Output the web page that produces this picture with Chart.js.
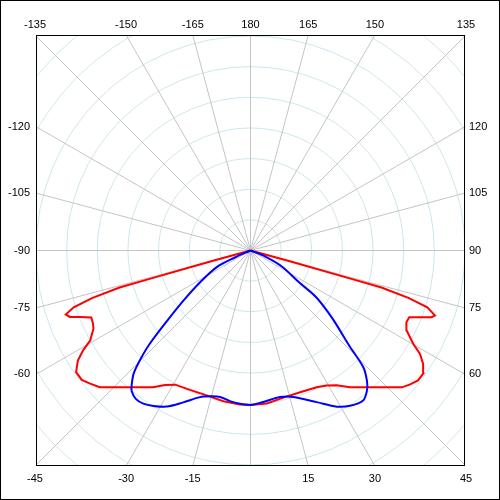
<!DOCTYPE html>
<html>
<head>
<meta charset="utf-8">
<script src="https://cdn.jsdelivr.net/npm/chart.js@4.4.1/dist/chart.umd.min.js"></script>
<style>
  html, body { margin: 0; padding: 0; background: #fff; }
  canvas { display: block; }
</style>
</head>
<body>
<canvas id="polarChart" width="500" height="500"></canvas>
<script>
// angulos en grados (0 = abajo, positivo a la derecha), intensidad en unidades del grafico
var redAngles = [-90, -74.6, -74.3, -74.2, -73.3, -72.2, -70.9, -69.8, -68.7, -67.2, -65.4, -63.6, -60.7, -59.2, -57.5, -55.1, -52.5, -50.3, -47.8, -35.5, -32.4, -29.3, -23.5, -16.8, -10.2, -3.9,
                 0, 6.1, 12.6, 19.3, 25.8, 29.4, 32.6, 36.0, 47.9, 50.0, 52.2, 54.5, 56.7, 58.6, 60.2, 62.9, 65.3, 67.2, 69.8, 70.6, 72.2, 73.3, 74.2, 74.3, 74.6, 90];
var redValues = [0, 65, 171, 222, 269, 303, 319, 314, 299, 282, 283, 286, 300, 318, 334, 347, 347, 340, 332, 274, 260, 251, 248, 247, 250, 252,
                 252, 251, 246, 245, 248, 253, 261, 276, 333, 340, 346, 346, 337, 324, 306, 286, 280, 281, 315, 319, 303, 269, 222, 171, 65, 0];

var blueAngles = [-90, -66, -64, -58, -53.5, -50, -47.2, -45.3, -43.5, -41.7, -40.3, -37.7, -35.0, -32.0, -28.2, -23.9, -19.0, -15.5, -11.7, -6.5,
                  0, 4.8, 11.4, 16.3, 23.6, 28.9, 32.7, 36.9, 39.8, 41.8, 44.0, 46.1, 50.3, 54.6, 56.8, 62.9, 67.5, 90];
var blueValues = [0, 28, 60, 96, 134, 176, 224, 253, 277, 291, 300, 306, 305, 299, 289, 271, 253, 247, 244, 249,
                  252, 248, 244, 249, 270, 291, 301, 306, 297, 285, 265, 223, 174, 131, 94, 58, 27, 0];

// etiquetas de angulo en el borde
var angleTicks = [-165, -150, -135, -120, -105, -90, -75, -60, -45, -30, -15, 15, 30, 45, 60, 75, 90, 105, 120, 135, 150, 165, 180];

var ringStep = 50;
var maxValue = 350;

function toXY(angles, values) {
    return angles.map(function(a, i) {
        var t = a * Math.PI / 180;
        return { x: values[i] * Math.sin(t), y: -values[i] * Math.cos(t) };
    });
}

var polarGrid = {
    id: 'polarGrid',
    beforeDatasetsDraw: function(chart) {
        var ctx = chart.ctx, a = chart.chartArea;
        var xs = chart.scales.x, ys = chart.scales.y;
        var cx = xs.getPixelForValue(0), cy = ys.getPixelForValue(0);
        var unit = xs.getPixelForValue(ringStep) - cx;
        ctx.save();
        ctx.beginPath();
        ctx.rect(a.left, a.top, a.right - a.left, a.bottom - a.top);
        ctx.clip();
        ctx.lineWidth = 1;
        ctx.strokeStyle = '#cde6ee';
        for (var k = 1; k <= 10; k++) {
            ctx.beginPath();
            ctx.arc(cx, cy, k * unit, 0, Math.PI * 2);
            ctx.stroke();
        }
        ctx.strokeStyle = '#c4c4c4';
        for (var d = 0; d < 360; d += 15) {
            var t = d * Math.PI / 180;
            ctx.beginPath();
            ctx.moveTo(cx, cy);
            ctx.lineTo(cx + 1000 * Math.sin(t), cy + 1000 * Math.cos(t));
            ctx.stroke();
        }
        ctx.restore();
    },
    afterDraw: function(chart) {
        var ctx = chart.ctx, a = chart.chartArea;
        var cx = chart.scales.x.getPixelForValue(0), cy = chart.scales.y.getPixelForValue(0);
        var hx = (a.right - a.left) / 2, hy = (a.bottom - a.top) / 2;
        ctx.save();
        ctx.strokeStyle = '#000';
        ctx.lineWidth = 1;
        ctx.strokeRect(a.left + 0.5, a.top + 0.5, a.right - a.left - 1, a.bottom - a.top - 1);
        ctx.strokeRect(0.5, 0.5, chart.width - 1, chart.height - 1);
        ctx.fillStyle = '#000';
        ctx.font = '11px "Liberation Sans", Arial, sans-serif';
        angleTicks.forEach(function(d) {
            var t = d * Math.PI / 180;
            var s = Math.sin(t), c = Math.cos(t);
            if (Math.abs(c) >= Math.abs(s) - 1e-6) {
                var px = cx + (hy / Math.abs(c)) * s;
                ctx.textAlign = 'center';
                ctx.textBaseline = 'middle';
                ctx.fillText(String(d), px, c < 0 ? a.top - 10 : a.bottom + 13);
            } else {
                var py = cy + (hx / Math.abs(s)) * c;
                ctx.textBaseline = 'middle';
                if (s < 0) { ctx.textAlign = 'right'; ctx.fillText(String(d), a.left - 6, py); }
                else { ctx.textAlign = 'left'; ctx.fillText(String(d), a.right + 4, py); }
            }
        });
        ctx.restore();
    }
};

new Chart(document.getElementById('polarChart'), {
    type: 'scatter',
    data: {
        datasets: [{
            label: 'C90-C270',
            data: toXY(blueAngles, blueValues),
            showLine: true,
            borderColor: '#0000ff',
            borderWidth: 2,
            pointRadius: 0,
            tension: 0.3,
            fill: false
        }, {
            label: 'C0-C180',
            data: toXY(redAngles, redValues),
            showLine: true,
            borderColor: '#ff0000',
            borderWidth: 2,
            pointRadius: 0,
            tension: 0,
            fill: false
        }]
    },
    options: {
        responsive: false,
        animation: false,
        layout: { padding: { left: 36, right: 35, top: 35, bottom: 34 } },
        plugins: { legend: { display: false }, tooltip: { enabled: false } },
        scales: {
            x: { type: 'linear', min: -maxValue, max: maxValue, display: false },
            y: { type: 'linear', min: -maxValue * 431 / 429, max: maxValue * 431 / 429, display: false }
        }
    },
    plugins: [polarGrid]
});
</script>
</body>
</html>
